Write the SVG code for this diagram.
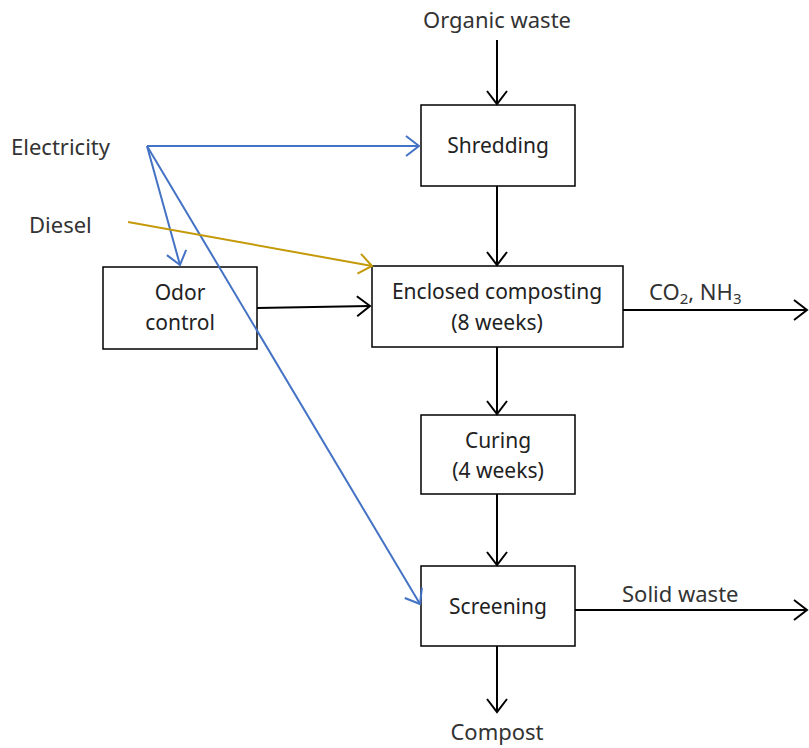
<svg xmlns="http://www.w3.org/2000/svg" width="809" height="748" viewBox="0 0 809 748">
<style>
.box{fill:#fff;stroke:#000;stroke-width:1.5}
.t{font-family:"Noto Sans","Open Sans",sans-serif;font-size:21px;fill:#222;text-anchor:middle}
.lb{font-family:"Noto Sans","Open Sans",sans-serif;font-size:22px;fill:#333}
.k{stroke:#000;stroke-width:2;fill:none}
.b{stroke:#4472C4;stroke-width:2;fill:none}
.g{stroke:#C49A0A;stroke-width:2;fill:none}
</style>
<defs>
<marker id="ak" markerUnits="userSpaceOnUse" markerWidth="16" markerHeight="24" refX="14" refY="11" orient="auto" viewBox="0 0 16 22"><path d="M1,1 L14,11 L1,21" fill="none" stroke="#000" stroke-width="2"/></marker>
<marker id="ab" markerUnits="userSpaceOnUse" markerWidth="16" markerHeight="24" refX="14" refY="11" orient="auto" viewBox="0 0 16 22"><path d="M1,1 L14,11 L1,21" fill="none" stroke="#4472C4" stroke-width="2"/></marker>
<marker id="ag" markerUnits="userSpaceOnUse" markerWidth="16" markerHeight="24" refX="14" refY="11" orient="auto" viewBox="0 0 16 22"><path d="M1,1 L14,11 L1,21" fill="none" stroke="#C49A0A" stroke-width="2"/></marker>
</defs>
<rect width="809" height="748" fill="#fff"/>
<g id="shredding"><rect class="box" x="421" y="105" width="154" height="81"/><text class="t" x="498" y="153">Shredding</text></g>
<g id="odor"><rect class="box" x="103" y="267" width="154" height="82"/><text class="t" x="180" y="300">Odor</text><text class="t" x="180" y="330">control</text></g>
<g id="enclosed"><rect class="box" x="372" y="266" width="251" height="81"/><text class="t" x="497" y="299">Enclosed composting</text><text class="t" x="497" y="330">(8 weeks)</text></g>
<g id="curing"><rect class="box" x="421" y="415" width="154" height="79"/><text class="t" x="498" y="448">Curing</text><text class="t" x="498" y="478">(4 weeks)</text></g>
<g id="screening"><rect class="box" x="421" y="566" width="154" height="80"/><text class="t" x="498" y="614">Screening</text></g>
<g id="connectors">
<line class="k" x1="497" y1="40" x2="497" y2="104" marker-end="url(#ak)"/>
<line class="k" x1="497" y1="186" x2="497" y2="265" marker-end="url(#ak)"/>
<line class="k" x1="497" y1="347" x2="497" y2="414" marker-end="url(#ak)"/>
<line class="k" x1="497" y1="494" x2="497" y2="565" marker-end="url(#ak)"/>
<line class="k" x1="497" y1="646" x2="497" y2="712" marker-end="url(#ak)"/>
<line class="k" x1="257" y1="308" x2="370" y2="306" marker-end="url(#ak)"/>
<line class="k" x1="623" y1="310" x2="807" y2="310" marker-end="url(#ak)"/>
<line class="k" x1="575" y1="610" x2="807" y2="610" marker-end="url(#ak)"/>
<line class="b" x1="147" y1="146" x2="419" y2="146" marker-end="url(#ab)"/>
<line class="b" x1="147" y1="146" x2="180" y2="265" marker-end="url(#ab)"/>
<line class="b" x1="147" y1="146" x2="420" y2="604" marker-end="url(#ab)"/>
<line class="g" x1="128" y1="222" x2="372" y2="266" marker-end="url(#ag)"/>
</g>
<g id="labels">
<text class="lb" x="497" y="28" text-anchor="middle">Organic waste</text>
<text class="lb" x="11" y="155">Electricity</text>
<text class="lb" x="29" y="233">Diesel</text>
<text class="lb" x="649" y="300">CO<tspan font-size="15" dy="4">2</tspan><tspan dy="-4">, NH</tspan><tspan font-size="15" dy="4">3</tspan></text>
<text class="lb" x="622" y="602">Solid waste</text>
<text class="lb" x="497" y="740" text-anchor="middle">Compost</text>
</g>
</svg>
